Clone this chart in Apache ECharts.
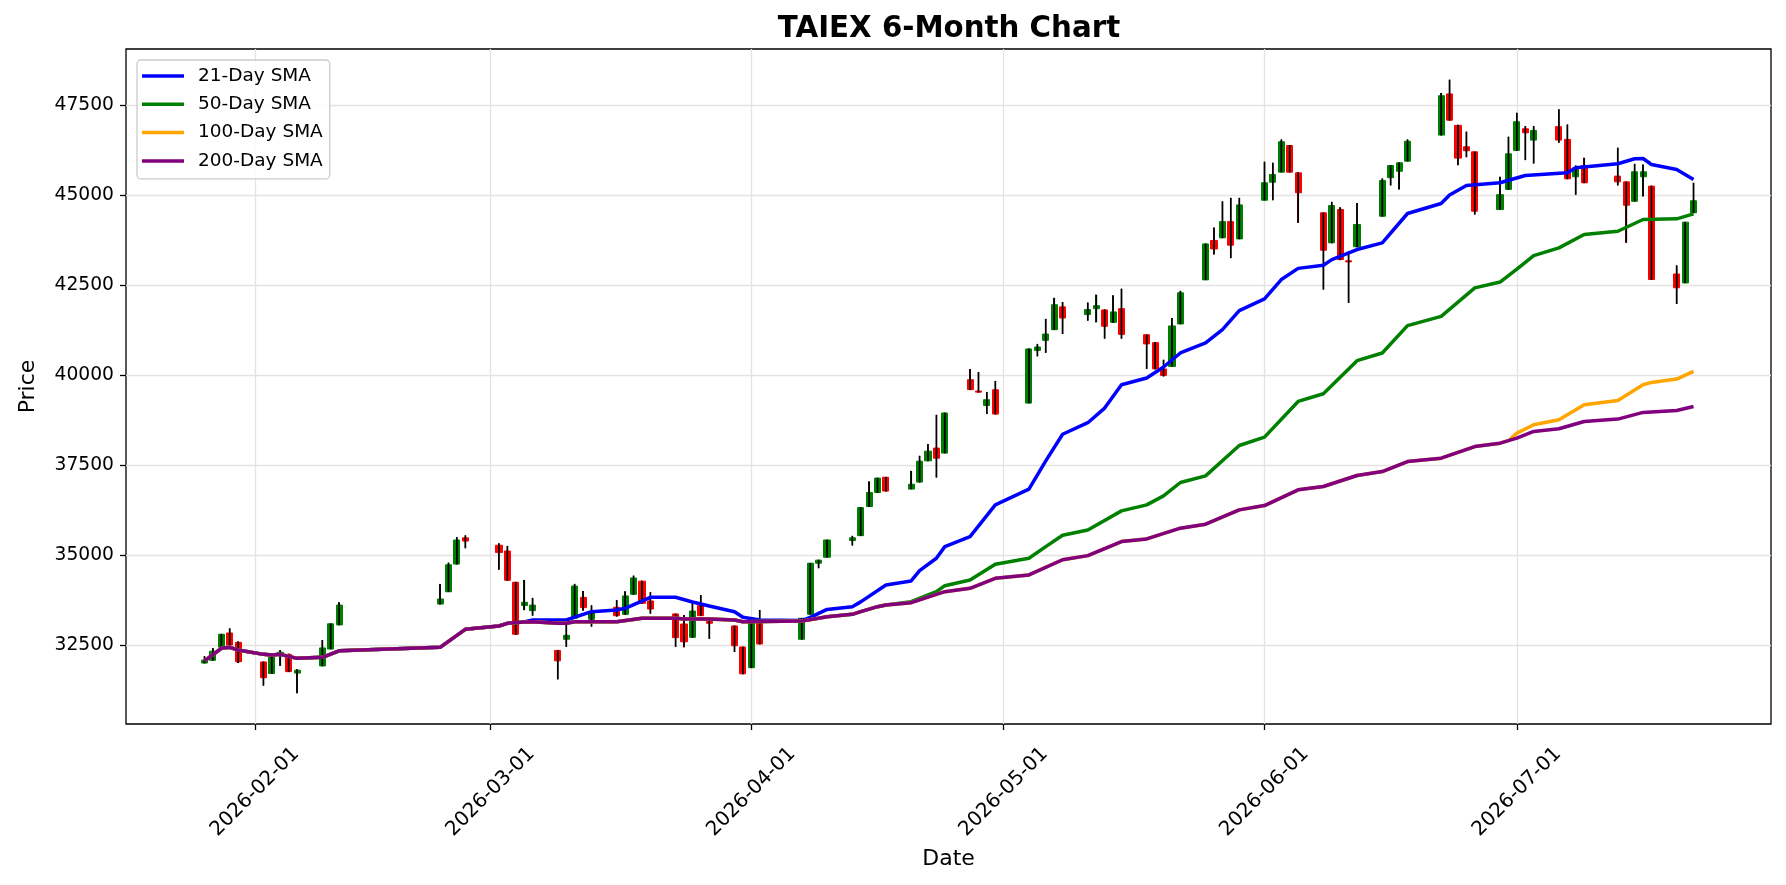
<!DOCTYPE html>
<html>
<head>
<meta charset="utf-8">
<title>TAIEX 6-Month Chart</title>
<script src="https://cdn.jsdelivr.net/npm/echarts@6/dist/echarts.min.js"></script>
<style>
  html, body { margin: 0; padding: 0; background: #fff; }
  #chart { width: 1786px; height: 885px; }
</style>
</head>
<body>
<div id="chart"></div>
<script>
// trading days
var dates = [
	'2026-01-26', '2026-01-27', '2026-01-28', '2026-01-29', '2026-01-30',
	'2026-02-02', '2026-02-03', '2026-02-04', '2026-02-05', '2026-02-06',
	'2026-02-09', '2026-02-10', '2026-02-11',
	'2026-02-23', '2026-02-24', '2026-02-25', '2026-02-26',
	'2026-03-02', '2026-03-03', '2026-03-04', '2026-03-05', '2026-03-06',
	'2026-03-09', '2026-03-10', '2026-03-11', '2026-03-12', '2026-03-13',
	'2026-03-16', '2026-03-17', '2026-03-18', '2026-03-19', '2026-03-20',
	'2026-03-23', '2026-03-24', '2026-03-25', '2026-03-26', '2026-03-27',
	'2026-03-30', '2026-03-31', '2026-04-01', '2026-04-02',
	'2026-04-07', '2026-04-08', '2026-04-09', '2026-04-10',
	'2026-04-13', '2026-04-14', '2026-04-15', '2026-04-16', '2026-04-17',
	'2026-04-20', '2026-04-21', '2026-04-22', '2026-04-23', '2026-04-24',
	'2026-04-27', '2026-04-28', '2026-04-29', '2026-04-30',
	'2026-05-04', '2026-05-05', '2026-05-06', '2026-05-07', '2026-05-08',
	'2026-05-11', '2026-05-12', '2026-05-13', '2026-05-14', '2026-05-15',
	'2026-05-18', '2026-05-19', '2026-05-20', '2026-05-21', '2026-05-22',
	'2026-05-25', '2026-05-26', '2026-05-27', '2026-05-28', '2026-05-29',
	'2026-06-01', '2026-06-02', '2026-06-03', '2026-06-04', '2026-06-05',
	'2026-06-08', '2026-06-09', '2026-06-10', '2026-06-11', '2026-06-12',
	'2026-06-15', '2026-06-16', '2026-06-17', '2026-06-18',
	'2026-06-22', '2026-06-23', '2026-06-24', '2026-06-25', '2026-06-26',
	'2026-06-29', '2026-06-30', '2026-07-01', '2026-07-02', '2026-07-03',
	'2026-07-06', '2026-07-07', '2026-07-08', '2026-07-09',
	'2026-07-13', '2026-07-14', '2026-07-15', '2026-07-16', '2026-07-17',
	'2026-07-20', '2026-07-21', '2026-07-22'
];

var opens = [
	32000, 32075, 32440, 32835, 32575,
	32030, 31710, 32225, 32240, 31720,
	31920, 32390, 33060,
	33640, 33980, 34750, 35480,
	35275, 35115, 34245, 33600, 33455,
	32350, 32660, 33245, 33825, 33215,
	33550, 33355, 33910, 34275, 33725,
	33365, 33085, 32715, 33595, 33160,
	33030, 32445, 31870, 33150,
	32660, 33355, 34775, 34940,
	35405, 35540, 36350, 36740, 37165,
	36835, 37030, 37620, 37975, 37835,
	39875, 39560, 39160, 39595,
	39225, 40690, 40970, 41265, 41900,
	41685, 41850, 41815, 41470, 41850,
	41125, 40905, 40175, 40245, 41425,
	42650, 43745, 43820, 44270, 43790,
	44865, 45365, 45645, 46385, 45625,
	44515, 43680, 44605, 43180, 43570,
	44420, 45490, 45670, 45950,
	46675, 47820, 46945, 46350, 46210,
	44605, 45165, 46250, 46850, 46535,
	46910, 46555, 45515, 45830,
	45535, 45375, 44835, 45515, 45255,
	42815, 42565, 44515
];

var highs = [
	32190, 32420, 32810, 32965, 32600,
	32040, 32170, 32360, 32260, 31830,
	32640, 33100, 33690,
	34200, 34790, 35500, 35550,
	35330, 35255, 34255, 34310, 33810,
	32360, 33060, 34200, 34000, 33605,
	33750, 33995, 34430, 34290, 33970,
	33370, 33335, 33680, 33890, 33245,
	33040, 32450, 33230, 33475,
	33250, 34780, 34870, 35425,
	35535, 36330, 37050, 37150, 37170,
	37340, 37760, 38085, 38900, 38960,
	40175, 40090, 39535, 39840,
	40740, 40870, 41565, 42150, 42035,
	42020, 42240, 41830, 42220, 42405,
	41130, 40920, 40430, 41590, 42345,
	43660, 44105, 44835, 44930, 44930,
	45935, 45905, 46555, 46400, 45640,
	44520, 44820, 44670, 43445, 44790,
	45470, 45835, 45910, 46555,
	47845, 48215, 46960, 46770, 46215,
	45515, 46630, 47295, 46925, 46925,
	47390, 46970, 45830, 46045,
	46325, 45380, 45875, 45860, 45270,
	43055, 44260, 45350
];

var lows = [
	31990, 32070, 32430, 32490, 32000,
	31370, 31700, 31920, 31750, 31160,
	31910, 32380, 33050,
	33630, 33975, 34740, 35190,
	34590, 34290, 32790, 33470, 33315,
	31545, 32450, 33240, 33455, 33010,
	33290, 33340, 33900, 33650, 33370,
	32450, 32435, 32700, 33310, 32670,
	32305, 31690, 31860, 32520,
	32650, 33350, 34635, 34935,
	35265, 35530, 36340, 36730, 36770,
	36830, 37020, 37610, 37155, 37830,
	39590, 39520, 38920, 38910,
	39220, 40525, 40620, 41260, 41145,
	41515, 41470, 41015, 41460, 41015,
	40175, 40165, 39965, 40240, 41420,
	42645, 43355, 43810, 43255, 43780,
	44860, 44865, 45640, 45640, 44235,
	42380, 43670, 43200, 42010, 43560,
	44410, 45275, 45165, 45945,
	46665, 47080, 45840, 46060, 44465,
	44600, 45160, 46240, 45980, 45885,
	46460, 45450, 45015, 45340,
	45275, 43680, 44830, 44970, 42650,
	41980, 42560, 44510
];

var closes = [
	32080, 32330, 32800, 32500, 32035,
	31590, 32165, 32300, 31760, 31800,
	32420, 33090, 33610,
	33780, 34730, 35420, 35390,
	35070, 34300, 32800, 33690, 33610,
	32060, 32770, 34140, 33540, 33410,
	33315, 33865, 34365, 33660, 33500,
	32705, 32590, 33445, 33315, 33105,
	32480, 31700, 33225, 32530,
	33245, 34775, 34860, 35420,
	35480, 36320, 36740, 37140, 36780,
	36970, 37610, 37890, 37695, 38950,
	39600, 39530, 39320, 38920,
	40730, 40785, 41145, 41960, 41590,
	41825, 41935, 41360, 41760, 41135,
	40870, 40175, 39995, 41370, 42290,
	43650, 43510, 44270, 43615, 44735,
	45350, 45580, 46490, 45645, 45070,
	43475, 44715, 43215, 43150, 44190,
	45415, 45830, 45905, 46505,
	47770, 47090, 46035, 46240, 44560,
	45020, 46155, 47045, 46740, 46805,
	46535, 45460, 45765, 45350,
	45375, 44725, 45655, 45655, 42660,
	42430, 44255, 44850
];

// moving averages: where the lines lie on top of each other they share points
var smaShared = [
	['2026-01-26', 32060], ['2026-01-28', 32408], ['2026-01-29', 32436], ['2026-01-30', 32361],
	['2026-02-02', 32241], ['2026-02-03', 32222], ['2026-02-04', 32241], ['2026-02-06', 32130],
	['2026-02-09', 32158], ['2026-02-11', 32341], ['2026-02-23', 32436], ['2026-02-26', 32937],
	['2026-03-02', 33029], ['2026-03-03', 33104], ['2026-03-05', 33140]
];
var smaSharedMid = [
	['2026-03-06', 33148], ['2026-03-09', 33104], ['2026-03-10', 33104], ['2026-03-11', 33148],
	['2026-03-16', 33148], ['2026-03-19', 33243], ['2026-03-23', 33243], ['2026-03-24', 33224],
	['2026-03-27', 33224], ['2026-03-30', 33196], ['2026-03-31', 33148], ['2026-04-07', 33165],
	['2026-04-10', 33288], ['2026-04-13', 33354], ['2026-04-14', 33427], ['2026-04-16', 33566],
	['2026-04-17', 33613]
];
var smaSharedLate = [
	['2026-04-20', 33677], ['2026-04-24', 33983], ['2026-04-27', 34078], ['2026-04-30', 34356],
	['2026-05-04', 34448], ['2026-05-08', 34870], ['2026-05-11', 34985], ['2026-05-15', 35375],
	['2026-05-18', 35450], ['2026-05-22', 35748], ['2026-05-25', 35859], ['2026-05-29', 36257],
	['2026-06-01', 36377], ['2026-06-05', 36814], ['2026-06-08', 36906], ['2026-06-12', 37212],
	['2026-06-15', 37323], ['2026-06-18', 37601], ['2026-06-22', 37694], ['2026-06-26', 38017],
	['2026-06-29', 38111], ['2026-06-30', 38180]
];
var sma21Own = [
	['2026-03-06', 33196], ['2026-03-10', 33196], ['2026-03-13', 33427], ['2026-03-16', 33474],
	['2026-03-17', 33520], ['2026-03-20', 33827], ['2026-03-23', 33827], ['2026-03-25', 33697],
	['2026-03-27', 33585], ['2026-03-30', 33427], ['2026-03-31', 33271], ['2026-04-02', 33196],
	['2026-04-07', 33180], ['2026-04-08', 33270], ['2026-04-10', 33490], ['2026-04-13', 33566],
	['2026-04-14', 33700], ['2026-04-17', 34170], ['2026-04-20', 34281], ['2026-04-21', 34568],
	['2026-04-23', 34913], ['2026-04-24', 35236], ['2026-04-27', 35514], ['2026-04-30', 36396],
	['2026-05-04', 36833], ['2026-05-06', 37620], ['2026-05-08', 38360], ['2026-05-11', 38680],
	['2026-05-13', 39087], ['2026-05-15', 39736], ['2026-05-18', 39922], ['2026-05-20', 40228],
	['2026-05-22', 40618], ['2026-05-25', 40896], ['2026-05-27', 41266], ['2026-05-29', 41795],
	['2026-06-01', 42121], ['2026-06-03', 42660], ['2026-06-05', 42970], ['2026-06-08', 43056],
	['2026-06-09', 43214], ['2026-06-12', 43493], ['2026-06-15', 43679], ['2026-06-18', 44495],
	['2026-06-22', 44773], ['2026-06-23', 45010], ['2026-06-25', 45274], ['2026-06-29', 45349],
	['2026-07-02', 45552], ['2026-07-07', 45627], ['2026-07-08', 45766], ['2026-07-13', 45877],
	['2026-07-15', 46016], ['2026-07-16', 46025], ['2026-07-17', 45858], ['2026-07-20', 45719],
	['2026-07-22', 45441]
];
var sma50Own = [
	['2026-04-20', 33705], ['2026-04-23', 33983], ['2026-04-24', 34150], ['2026-04-27', 34309],
	['2026-04-30', 34746], ['2026-05-04', 34913], ['2026-05-06', 35236], ['2026-05-08', 35550],
	['2026-05-11', 35700], ['2026-05-15', 36229], ['2026-05-18', 36396], ['2026-05-20', 36647],
	['2026-05-22', 37018], ['2026-05-25', 37203], ['2026-05-29', 38047], ['2026-06-01', 38280],
	['2026-06-05', 39271], ['2026-06-08', 39485], ['2026-06-12', 40404], ['2026-06-15', 40618],
	['2026-06-18', 41378], ['2026-06-22', 41637], ['2026-06-26', 42427], ['2026-06-29', 42590],
	['2026-07-01', 42950], ['2026-07-03', 43326], ['2026-07-06', 43540], ['2026-07-09', 43910],
	['2026-07-13', 44002], ['2026-07-16', 44328], ['2026-07-20', 44347], ['2026-07-22', 44486]
];
var sma100Own = [
	['2026-07-01', 38390], ['2026-07-03', 38623], ['2026-07-06', 38762], ['2026-07-09', 39179],
	['2026-07-13', 39299], ['2026-07-16', 39736], ['2026-07-17', 39800], ['2026-07-20', 39894],
	['2026-07-22', 40106]
];
var sma200Own = [
	['2026-07-01', 38250], ['2026-07-03', 38436], ['2026-07-06', 38511], ['2026-07-09', 38714],
	['2026-07-13', 38781], ['2026-07-16', 38966], ['2026-07-20', 39021], ['2026-07-22', 39132]
];

var tickDates = ['2026-02-01', '2026-03-01', '2026-04-01', '2026-05-01', '2026-06-01', '2026-07-01'];
var priceTicks = [32500, 35000, 37500, 40000, 42500, 45000, 47500];

var FONT = 'DejaVu Sans';

function ts(d) {
	return +echarts.time.parse(d);
}

var candleData = [];
var wickData = [];
for (var i = 0; i < dates.length; i++) {
	candleData.push([ts(dates[i]), opens[i], closes[i], lows[i], highs[i]]);
	wickData.push([ts(dates[i]), lows[i], highs[i]]);
}
var xTicks = tickDates.map(ts);

function toPoints(list) {
	return list.map(function(p) {
		return [ts(p[0]), p[1]];
	});
}
var sma21 = toPoints(smaShared.concat(sma21Own));
var sma50 = toPoints(smaShared.concat(smaSharedMid, sma50Own));
var sma100 = toPoints(smaShared.concat(smaSharedMid, smaSharedLate, sma100Own));
var sma200 = toPoints(smaShared.concat(smaSharedMid, smaSharedLate, sma200Own));

function smaLine(name, data, color) {
	return {
		name: name,
		type: 'line',
		data: data,
		symbol: 'none',
		showSymbol: false,
		z: 4,
		lineStyle: {
			color: color,
			width: 3.5
		},
		itemStyle: {
			color: color
		}
	};
}

var chart = echarts.init(document.getElementById('chart'));

var option = {
	animation: false,
	backgroundColor: '#ffffff',
	textStyle: {
		fontFamily: FONT
	},
	title: {
		text: 'TAIEX 6-Month Chart',
		left: 949,
		top: 13,
		textAlign: 'center',
		padding: 0,
		textStyle: {
			fontFamily: FONT,
			fontSize: 29.3,
			fontWeight: 'bold',
			color: '#000',
			lineHeight: 33
		}
	},
	legend: {
		orient: 'vertical',
		left: 137,
		top: 60,
		padding: [6, 7, 8, 5],
		itemWidth: 42,
		itemHeight: 3.5,
		itemGap: 8.3,
		icon: 'rect',
		backgroundColor: 'rgba(255,255,255,0.8)',
		borderColor: '#cccccc',
		borderWidth: 1.3,
		borderRadius: 4,
		textStyle: {
			fontFamily: FONT,
			fontSize: 18.5,
			color: '#000',
			lineHeight: 20,
			padding: [0, 0, 0, 9]
		},
		data: ['21-Day SMA', '50-Day SMA', '100-Day SMA', '200-Day SMA']
	},
	grid: {
		left: 126,
		right: 15,
		top: 49,
		bottom: 161,
		show: true,
		borderColor: '#000',
		borderWidth: 1.3,
		backgroundColor: 'transparent',
		containLabel: false,
		outerBoundsMode: 'none'
	},
	xAxis: {
		// dates as timestamps on a value axis so the month ticks can be placed exactly
		type: 'value',
		min: new Date(2026, 0, 16, 16).getTime(),
		max: new Date(2026, 6, 31, 5).getTime(),
		name: 'Date',
		nameLocation: 'middle',
		nameGap: 122,
		nameTextStyle: {
			fontFamily: FONT,
			fontSize: 22,
			color: '#000',
			lineHeight: 25
		},
		axisLine: {
			show: false
		},
		axisTick: {
			show: true,
			customValues: xTicks,
			length: 6,
			lineStyle: {
				color: '#000',
				width: 1.3
			}
		},
		axisLabel: {
			customValues: xTicks,
			rotate: 45,
			align: 'center',
			verticalAlign: 'middle',
			margin: 68,
			fontFamily: FONT,
			fontSize: 20,
			color: '#000',
			formatter: function(v) {
				return echarts.time.format(v, '{yyyy}-{MM}-{dd}', false);
			}
		},
		splitLine: {
			show: true,
			lineStyle: {
				color: '#e3e3e3',
				width: 1.3
			}
		}
	},
	yAxis: {
		type: 'value',
		min: 30305,
		max: 49068,
		name: 'Price',
		nameLocation: 'middle',
		nameGap: 85,
		nameTextStyle: {
			fontFamily: FONT,
			fontSize: 22,
			color: '#000',
			lineHeight: 25
		},
		axisLine: {
			show: false
		},
		axisTick: {
			show: true,
			customValues: priceTicks,
			length: 6,
			lineStyle: {
				color: '#000',
				width: 1.3
			}
		},
		axisLabel: {
			customValues: priceTicks,
			margin: 12,
			fontFamily: FONT,
			fontSize: 18.7,
			color: '#000',
			formatter: function(v) {
				return String(v);
			}
		},
		splitLine: {
			show: true,
			lineStyle: {
				color: '#e3e3e3',
				width: 1.3
			}
		}
	},
	series: [{
		type: 'candlestick',
		data: candleData,
		barWidth: 6.6,
		z: 2,
		itemStyle: {
			color: '#008000',
			color0: '#ff0000',
			borderColor: '#008000',
			borderColor0: '#ff0000',
			borderWidth: 1
		}
	}, {
		// black high-low wicks over the bodies
		type: 'custom',
		data: wickData,
		z: 3,
		encode: {
			x: 0,
			y: [1, 2]
		},
		renderItem: function(params, api) {
			var lo = api.coord([api.value(0), api.value(1)]);
			var hi = api.coord([api.value(0), api.value(2)]);
			return {
				type: 'line',
				shape: {
					x1: lo[0],
					y1: lo[1],
					x2: hi[0],
					y2: hi[1]
				},
				style: {
					stroke: '#000',
					lineWidth: 1.8
				}
			};
		}
	},
		smaLine('21-Day SMA', sma21, '#0000ff'),
		smaLine('50-Day SMA', sma50, '#008000'),
		smaLine('100-Day SMA', sma100, '#ffa500'),
		smaLine('200-Day SMA', sma200, '#800080')
	]
};

chart.setOption(option);
</script>
</body>
</html>
